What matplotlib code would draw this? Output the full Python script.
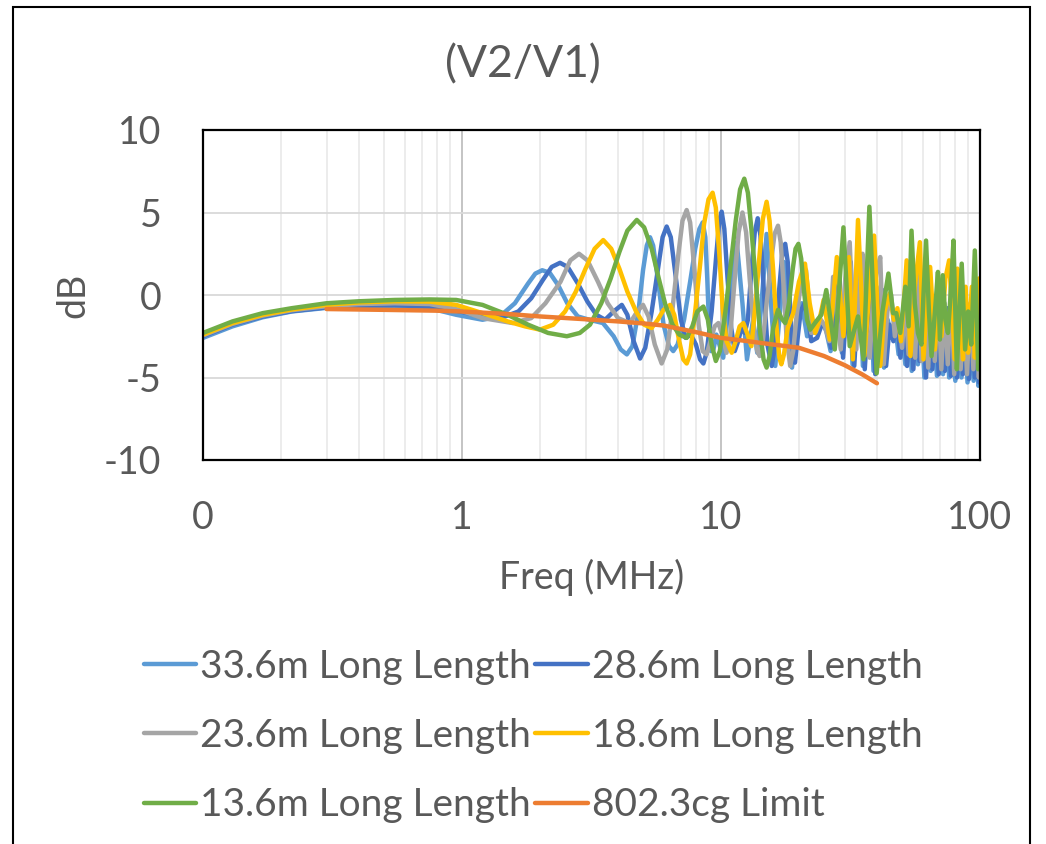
import matplotlib
matplotlib.use("Agg")
import matplotlib.pyplot as plt
from matplotlib.patches import Rectangle
from matplotlib.ticker import FixedLocator, LogLocator, NullFormatter

OUT_PNG = "out.png"
TEXT_COLOR = "#595959"
FONT = ["Lato", "DejaVu Sans"]

SERIES_NAMES = [
    "33.6m Long Length",
    "28.6m Long Length",
    "23.6m Long Length",
    "18.6m Long Length",
    "13.6m Long Length",
    "802.3cg Limit",
]
SERIES_COLORS = ["#5B9BD5", "#4472C4", "#A5A5A5", "#FFC000", "#70AD47", "#ED7D31"]

# 33.6m cable
FREQ_336 = [0.1, 0.13, 0.17, 0.22, 0.3, 0.4, 0.55, 0.75, 0.95, 1.2, 1.4, 1.6, 1.8, 1.92, 2.04,
            2.18, 2.35, 2.55, 2.8, 3.1, 3.5, 3.85, 4.1, 4.33, 4.55, 4.8, 5.0, 5.17, 5.32,
            5.47, 5.7, 6.0, 6.3, 6.54, 6.8, 7.2, 7.6, 7.95, 8.25, 8.5, 8.7, 8.85, 9.0, 9.15,
            9.35, 9.6, 10.2, 10.9, 11.5, 12.1, 12.6, 13.3, 13.8, 14.5, 15.0,
            15.6, 16.2, 17.0, 17.5, 18.1, 18.8, 19.6, 20.5, 21.5, 22.5, 23.5, 24.5, 25.5,
            26.5, 27.3, 28.3, 29.3, 30.3, 31.2, 32.2, 33.2, 34.3, 35.3, 36.5, 37.7, 38.8,
            40.0, 41.3, 42.6, 44.0, 45.5, 47.0, 48.5, 50.0, 51.5, 53.0, 54.5, 56.0, 57.6,
            59.2, 61.0, 62.8, 64.5, 66.3, 68.2, 70.0, 72.0, 74.0, 76.0, 78.0, 80.3, 82.5,
            84.8, 87.0, 89.5, 92.0, 94.5, 97.0, 98.5, 100]
DB_336 = [-2.6, -1.9, -1.35, -1.0, -0.78, -0.68, -0.65, -0.8, -1.2, -1.5, -1.3, -0.5, 0.7, 1.3, 1.5,
          1.35, 0.6, -0.5, -1.3, -1.5, -1.7, -2.5, -3.3, -3.6, -3.1, -1.0, 1.5, 3.0, 3.5,
          3.0, 1.0, -1.8, -3.1, -3.4, -3.0, -1.5, 0.8, 2.8, 4.0, 4.4, 3.5, 1.0, -2.0, -3.4,
          -3.3, -2.4, -3.8, 0.5, 3.2, -0.5, -3.9, -1.5, -3.5, 0.5, 3.7,
          -0.5, -4.3, -0.5, 2.0, -1.0, -4.4, -1.5, -0.5, -2.5, -2.3, -2.0, -1.6, -2.2,
          -3.4, -1.0, 1.2, -3.5, -1.0, 1.5, -4.2, 0.0, 2.2, -4.3, -1.5, 2.0, -4.6,
          -2.0, 0.5, -4.4, -1.5, -2.6, -1.8, -3.6, -2.2, -4.2, -0.8, -4.6, -0.5, -4.2,
          -1.0, -5.0, -1.5, -4.6, -1.2, -4.9, -1.8, -4.8, -1.0, -5.0, -1.5, -5.2, -2.0,
          -5.0, -1.8, -5.3, -2.5, -5.2, -2.0, -5.5, -4.0]

# 28.6m cable
FREQ_286 = [0.1, 0.13, 0.17, 0.22, 0.3, 0.4, 0.55, 0.75, 0.95, 1.2, 1.44, 1.65, 1.85, 2.05, 2.22,
            2.39, 2.56, 2.8, 3.05, 3.3, 3.57, 3.85, 4.14, 4.35, 4.6, 4.87, 5.1, 5.4, 5.7,
            5.95, 6.17, 6.4, 6.7, 7.0, 7.3, 7.65, 8.0, 8.3, 8.55, 8.8, 9.2, 9.6, 9.85, 10.06,
            10.3, 10.6, 10.95, 11.3, 11.65, 12.0, 12.35, 12.7, 13.1, 13.5, 13.86, 14.2, 14.6,
            15.1, 15.7, 16.2, 16.7, 17.2, 17.7, 18.1, 18.6, 19.0, 19.3, 19.8, 20.3, 21.3,
            22.3, 23.5, 24.6, 25.6, 26.6, 27.6, 28.6, 29.6,
            30.6, 31.7, 32.7, 33.7, 34.8, 35.9, 37.0, 38.2, 39.4, 40.7, 42.0, 43.4, 44.8,
            46.3, 47.8, 49.3, 50.8, 52.3, 53.8, 55.3, 56.8, 58.4, 60.1, 61.9, 63.7, 65.5,
            67.4, 69.3, 71.2, 73.2, 75.2, 77.2, 79.3, 81.5, 83.6, 85.9, 88.2, 90.6, 93.0,
            95.5, 97.8, 99.2, 100]
DB_286 = [-2.5, -1.8, -1.3, -0.98, -0.75, -0.65, -0.62, -0.7, -0.95, -1.3, -1.35, -1.0, -0.2, 0.9, 1.7,
          1.95, 1.7, 0.7, -0.4, -1.2, -1.5, -1.0, -0.6, -1.2, -2.8, -3.85, -3.2, -1.0, 1.5,
          3.5, 4.15, 3.5, 1.0, -1.5, -2.6, -2.4, -3.0, -3.9, -4.15, -3.5, -1.0, 2.5, 4.5, 5.05,
          4.0, 1.0, -2.0, -3.4, -2.8, -2.0, -2.3, -1.5, 1.5, 3.8, 4.65, 3.6, 0.5,
          -3.0, -4.3, -3.0, 0.0, 2.3, 3.1, 2.0, -1.5, -3.6, -4.1, -2.5, -1.0, -0.3,
          -2.8, -2.6, -1.7, -2.0, -3.2, -0.5, 1.5, -3.8,
          -0.5, 2.0, -4.3, -0.5, 1.8, -4.5, -1.0, 1.5, -4.8, -1.5, 0.3, -4.3, -1.8,
          -2.8, -1.5, -3.8, -1.5, -4.3, -0.5, -4.5, -0.3, -4.0, -0.8, -5.0, -1.0, -4.5,
          -0.8, -4.8, -1.2, -4.6, -0.8, -4.9, -1.0, -5.0, -1.5, -4.8, -1.0, -5.1, -1.8,
          -5.0, -1.5, -5.3, -4.3]

# 23.6m cable
FREQ_236 = [0.1, 0.13, 0.17, 0.22, 0.3, 0.4, 0.55, 0.75, 0.95, 1.2, 1.57, 1.85, 2.1, 2.4, 2.62,
            2.83, 3.05, 3.35, 3.65, 4.0, 4.45, 4.75, 5.0, 5.25, 5.55, 5.9, 6.2, 6.5, 6.85,
            7.1, 7.37, 7.6, 7.9, 8.2, 8.5, 8.8, 9.1, 9.45, 9.77, 10.1, 10.5, 10.85, 11.3,
            11.7, 12.1, 12.5, 12.9, 13.4, 13.8, 14.1, 14.5, 15.0, 15.6, 16.1, 16.6, 17.0,
            17.4, 17.9, 18.5, 19.0, 19.6, 20.2, 21.3, 22.3, 23.3, 24.3, 25.2, 26.2, 27.1,
            28.1, 29.0, 30.2, 31.4, 32.3,
            33.3, 34.3, 35.2, 36.3, 37.5, 38.6, 39.9, 41.2, 42.5, 43.9, 45.4, 46.9, 48.4,
            50.0, 51.5, 53.0, 54.6, 56.2, 57.8, 59.5, 61.3, 63.1, 65.0, 66.9, 68.9, 70.9,
            73.0, 75.1, 77.3, 79.5, 81.8, 84.2, 86.6, 89.1, 91.7, 94.3, 96.9, 99.0, 100]
DB_236 = [-2.45, -1.75, -1.25, -0.92, -0.68, -0.55, -0.5, -0.55, -0.85, -1.4, -1.7, -1.4, -0.5, 0.8, 2.1,
          2.5, 2.1, 0.8, -0.5, -1.4, -1.7, -1.0, -0.6, -1.3, -3.0, -4.15, -3.3, -0.8, 2.5,
          4.5, 5.15, 4.4, 1.5, -1.8, -3.4, -3.6, -2.8, -1.9, -1.7, -2.4, -3.5, -2.5, 1.0,
          3.8, 5.0, 3.8, 1.0, -2.0, -3.4, -3.7, -2.8, -0.5, 2.0, 3.7, 4.2, 3.2,
          0.8, -2.5, -4.3, -3.4, -1.2, 0.3, 1.5, -2.3, -2.2, -1.5, -1.9, -2.8, 1.1,
          -1.5, -3.3, 1.0, 3.2, -1.5,
          -3.3, 1.0, 2.5, -2.0, -3.8, -0.5, 1.5, 2.3, -4.2, -1.0, 0.0, -2.5, -1.2,
          -3.2, -0.5, -3.6, 1.0, -3.8, 1.5, -4.0, 0.5, -4.4, 0.0, -4.0, 0.3, -4.5,
          -0.5, -4.2, 0.5, -4.8, 0.3, -4.5, -0.5, -4.8, -0.5, -4.5, 0.0, -5.0, -3.5]

# 18.6m cable
FREQ_186 = [0.1, 0.13, 0.17, 0.22, 0.3, 0.4, 0.55, 0.75, 0.95, 1.2, 1.5, 1.75, 2.0, 2.25, 2.5,
            2.75, 3.0, 3.25, 3.51, 3.77, 4.05, 4.35, 4.7, 5.05, 5.4, 5.7, 6.0, 6.36, 6.6,
            6.9, 7.15, 7.37, 7.6, 7.95, 8.3, 8.6, 8.95, 9.28, 9.55, 9.85, 10.15, 10.5, 11.0,
            11.4, 11.8, 12.2, 12.6, 13.1, 13.6, 14.1, 14.5, 15.0, 15.4, 15.9, 16.4, 16.8,
            17.1, 17.5, 18.1, 19.0, 20.0, 21.1, 22.0,
            23.1, 24.0, 24.9, 26.3, 28.0, 29.7, 31.2, 32.3, 33.8, 35.8, 37.3, 39.0, 41.2,
            42.8, 44.8, 46.5, 48.0, 49.5, 50.8, 52.1, 53.9, 56.0, 58.6, 60.5, 62.3, 64.2,
            67.0, 69.0, 71.0, 73.5, 76.0, 78.0, 80.0, 81.8, 84.0, 86.0, 88.0, 90.0, 93.0,
            95.5, 97.5, 99.0, 100]
DB_186 = [-2.4, -1.7, -1.2, -0.88, -0.6, -0.45, -0.38, -0.4, -0.6, -1.1, -1.6, -1.9, -2.1, -1.8, -1.0,
          0.2, 1.6, 2.8, 3.33, 2.8, 1.6, 0.2, -1.0, -1.8, -2.0, -1.5, -0.9, -0.6, -1.2,
          -2.8, -3.9, -4.15, -3.6, -1.0, 1.8, 4.3, 5.8, 6.2, 5.3, 2.5, -0.8, -2.8, -3.5,
          -2.8, -1.9, -1.7, -2.3, -3.1, -0.5, 2.5, 4.6, 5.65, 4.5, 1.5, -2.0, -3.8,
          -4.2, -3.6, -2.0, -1.1, 0.8, 1.9, -0.5,
          -2.3, -1.5, -0.3, -2.7, 2.3, -2.5, 2.3, -3.9, 4.55, -3.7, 0.0, 3.6, -4.3,
          -1.0, 0.1, -1.5, -0.8, -2.8, -0.5, 2.1, -3.7, 0.5, 3.2, -3.9, -0.5, 1.7,
          -3.3, 0.0, -2.5, 1.0, 2.1, -1.0, -3.9, 1.6, -1.5, -3.9, 0.5, -3.5, 0.5,
          -3.8, -2.0, 1.0, -1.5]

# 13.6m cable
FREQ_136 = [0.1, 0.13, 0.17, 0.22, 0.3, 0.4, 0.55, 0.75, 0.95, 1.2, 1.5, 1.8, 2.15, 2.54, 2.85,
            3.12, 3.45, 3.75, 4.05, 4.35, 4.73, 5.05, 5.4, 5.75, 6.1, 6.5, 6.9, 7.37, 7.75,
            8.1, 8.55, 8.9, 9.2, 9.55, 9.9, 10.4, 10.9, 11.4, 11.85, 12.3, 12.7, 13.1, 13.6,
            14.1, 14.6, 15.0, 15.4, 15.9, 16.6, 17.1, 17.7, 18.3, 18.9, 19.4, 19.9, 20.4,
            20.9, 21.5, 22.1, 23.3, 24.4,
            25.5, 27.5, 29.7, 31.4, 33.8, 35.5, 37.4, 39.9, 42.0, 44.3, 46.2, 47.5, 49.2,
            51.5, 53.0, 54.4, 56.0, 57.6, 59.4, 60.5, 61.9, 63.5, 65.0, 67.0, 68.8, 70.0,
            71.8, 73.5, 75.2, 77.0, 79.0, 81.4, 83.0, 85.0, 87.6, 90.0, 92.5, 95.5, 98.4, 100]
DB_136 = [-2.3, -1.6, -1.1, -0.8, -0.5, -0.38, -0.3, -0.27, -0.3, -0.6, -1.2, -1.8, -2.3, -2.5, -2.3,
          -1.8, -0.5, 1.0, 2.6, 3.9, 4.55, 4.1, 2.8, 1.0, -0.6, -1.8, -2.4, -2.6, -1.9,
          -1.0, -0.7, -1.5, -3.0, -4.0, -3.4, -1.0, 1.8, 4.5, 6.4, 7.05, 6.2, 4.0, 1.0,
          -2.0, -3.9, -4.4, -3.7, -2.0, -0.9, -1.4, -1.7, -0.5, 1.5, 2.8, 3.1, 2.2,
          0.3, -1.5, -2.1, -1.6, -1.2,
          0.3, -3.3, 4.1, -3.1, -1.3, -3.9, 5.35, -4.75, -1.0, 1.3, -1.1, -1.1, -2.3,
          0.5, -1.9, 3.9, -0.5, -2.3, -3.0, 0.0, 3.3, -1.0, -3.7, -1.0, 1.4, -2.7,
          1.2, -1.5, -2.3, 0.0, 3.3, -4.5, -1.5, 1.9, -3.3, -1.0, -3.0, 2.7, -4.5, -3.3]

# 802.3cg limit line
FREQ_LIMIT = [0.3, 0.5, 0.8, 1.0, 1.5, 2.0, 3.0, 4.0, 5.0, 6.0, 8.0, 10.0, 12.0, 15.0, 20.0,
              25.0, 30.0, 35.0, 40.0]
DB_LIMIT = [-0.85, -0.9, -0.95, -1.0, -1.15, -1.3, -1.47, -1.6, -1.72, -1.85, -2.25, -2.6,
            -2.75, -2.95, -3.2, -3.7, -4.25, -4.8, -5.35]

SERIES = [
    (FREQ_336, DB_336),
    (FREQ_286, DB_286),
    (FREQ_236, DB_236),
    (FREQ_186, DB_186),
    (FREQ_136, DB_136),
    (FREQ_LIMIT, DB_LIMIT),
]

X_TICKS = [0.1, 1, 10, 100]
X_TICK_LABELS = ["0", "1", "10", "100"]
Y_TICKS = [-10, -5, 0, 5, 10]


def main() -> None:
    plt.rcParams["font.family"] = FONT
    plt.rcParams["axes.unicode_minus"] = False
    fig = plt.figure(figsize=(10.46, 8.44), dpi=100)
    ax = fig.add_axes([203 / 1046, 1 - 460 / 844, 777 / 1046, 330 / 844])

    lines = []
    for (freq, db), name, color in zip(SERIES, SERIES_NAMES, SERIES_COLORS):
        line, = ax.plot(freq, db, color=color, lw=3.2, label=name,
                        solid_joinstyle="round", solid_capstyle="round")
        lines.append(line)

    ax.set_xscale("log")
    ax.set_xlim(0.1, 100)
    ax.set_ylim(-10, 10)
    ax.xaxis.set_major_locator(FixedLocator(X_TICKS))
    ax.set_xticklabels(X_TICK_LABELS)
    ax.xaxis.set_minor_locator(LogLocator(base=10, subs=range(2, 10)))
    ax.xaxis.set_minor_formatter(NullFormatter())
    ax.set_yticks(Y_TICKS)

    ax.grid(axis="y", which="major", color="#D9D9D9", lw=1.3)
    ax.grid(axis="x", which="major", color="#BFBFBF", lw=1.3)
    ax.grid(axis="x", which="minor", color="#EBEBEB", lw=1.3)
    ax.set_axisbelow(True)
    for spine in ax.spines.values():
        spine.set_color("black")
        spine.set_linewidth(1.6)

    ax.tick_params(which="both", length=0, labelsize=27, colors=TEXT_COLOR)
    ax.tick_params(axis="x", pad=29)
    ax.tick_params(axis="y", pad=30)

    ax.set_xlabel("Freq (MHz)", fontsize=27, color=TEXT_COLOR, labelpad=16)
    ax.set_ylabel("dB", fontsize=27, color=TEXT_COLOR, labelpad=9)
    fig.text(0.5, 1 - 65 / 844, "(V2/V1)", fontsize=32, color=TEXT_COLOR,
             ha="center", va="center")

    # legend filled row by row, two entries per row
    order = [0, 2, 4, 1, 3, 5]
    leg = fig.legend([lines[i] for i in order], [SERIES_NAMES[i] for i in order],
                     ncol=2, loc="upper left",
                     bbox_to_anchor=(128 / 1046, 1 - 633 / 844), frameon=False,
                     fontsize=28, handlelength=1.35, handletextpad=0.1,
                     columnspacing=0.12, labelspacing=0.86, borderaxespad=0)
    for text in leg.get_texts():
        text.set_color(TEXT_COLOR)

    # chart area outline
    fig.patches.append(Rectangle((13 / 1046, -0.05), 1017 / 1046, 1.05 - 7 / 844,
                                 transform=fig.transFigure, fill=False,
                                 edgecolor="black", lw=1.5))

    fig.savefig(OUT_PNG, dpi=100)
    plt.close(fig)


if __name__ == "__main__":
    main()
